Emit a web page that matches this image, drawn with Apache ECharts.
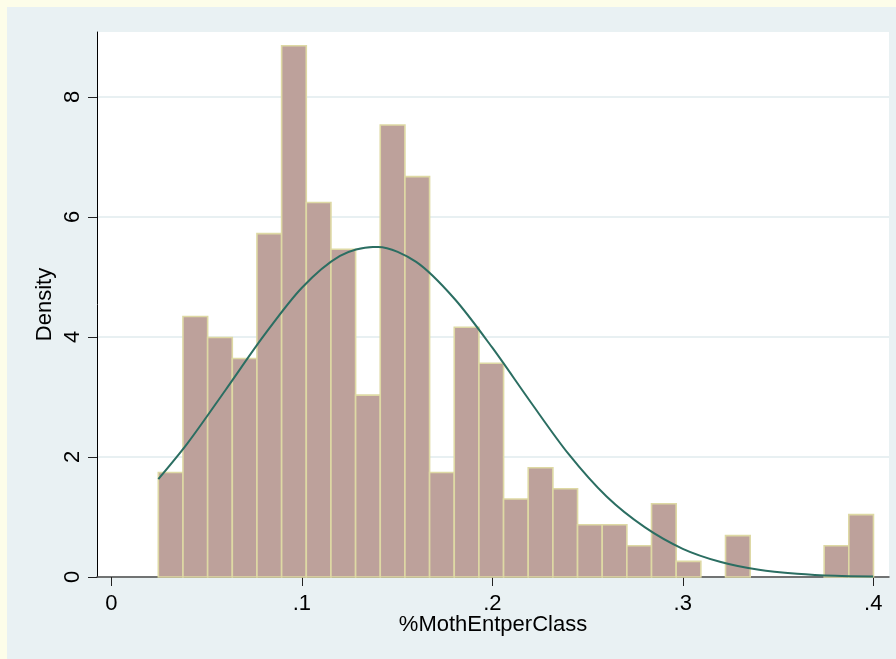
<!DOCTYPE html>
<html>
<head>
<meta charset="utf-8">
<script src="https://cdn.jsdelivr.net/npm/echarts@6/dist/echarts.min.js"></script>
<style>
  html, body { margin: 0; padding: 0; background: #fdfde9; }
  #chart { width: 896px; height: 659px; }
</style>
</head>
<body>
<div id="chart"></div>
<script>
// Histogram: 29 equal-width bins starting at the data minimum
const binStart = 0.0246;
const binWidth = 0.012950;
const binDensity = [
  1.74, 4.34, 3.99, 3.64, 5.72, 8.85, 6.24, 5.46, 3.03, 7.53,
  6.67, 1.74, 4.16, 3.56, 1.30, 1.82, 1.47, 0.87, 0.87, 0.52,
  1.22, 0.26, 0, 0.69, 0, 0, 0, 0.52, 1.04
];

// Normal density overlay
const curveX = [0.0246, 0.04, 0.06, 0.08, 0.10, 0.12, 0.1373, 0.14, 0.16, 0.18,
                0.20, 0.22, 0.24, 0.26, 0.28, 0.30, 0.32, 0.34, 0.36, 0.38, 0.40];
const curveY = [1.63, 2.23, 3.12, 4.02, 4.82, 5.35, 5.50, 5.50, 5.25, 4.64,
                3.82, 2.92, 2.05, 1.34, 0.83, 0.47, 0.25, 0.12, 0.055, 0.02, 0.008];

// Axis ticks
const xTicks = [0, 0.1, 0.2, 0.3, 0.4];
const xTickLabels = ['0', '.1', '.2', '.3', '.4'];
const yTicks = [0, 2, 4, 6, 8];
const yTickLabels = ['0', '2', '4', '6', '8'];
const xTitle = '%MothEntperClass';
const yTitle = 'Density';

const histData = binDensity.map((d, i) => [binStart + i * binWidth, binStart + (i + 1) * binWidth, d]);
const curveData = curveX.map((x, i) => [x, curveY[i]]);

const chart = echarts.init(document.getElementById('chart'));
const FONT = 'Liberation Sans, Arial, sans-serif';
const FS = 22;

chart.setOption({
  animation: false,
  backgroundColor: '#e9f1f3',
  graphic: [
    { type: 'rect', shape: { x: 0, y: 0, width: 896, height: 7 }, style: { fill: '#fdfde9' }, silent: true },
    { type: 'rect', shape: { x: 0, y: 0, width: 7, height: 659 }, style: { fill: '#fdfde9' }, silent: true }
  ],
  grid: {
    left: 97, right: 7, top: 32, bottom: 82,
    show: true, backgroundColor: '#ffffff', borderWidth: 0
  },
  xAxis: {
    type: 'value',
    min: -0.0076, max: 0.4083,
    name: xTitle,
    nameLocation: 'middle',
    nameGap: 37,
    nameMoveOverlap: false,
    nameTextStyle: { fontFamily: FONT, fontSize: FS, color: '#000' },
    axisLine: { show: true, onZero: false, lineStyle: { color: '#4a4a4a', width: 1.5 } },
    axisTick: { show: true, length: 9, lineStyle: { color: '#222', width: 1 }, customValues: xTicks },
    axisLabel: {
      customValues: xTicks,
      margin: 16,
      fontFamily: FONT, fontSize: FS, color: '#000',
      formatter: v => { const i = xTicks.findIndex(t => Math.abs(t - v) < 1e-9); return i >= 0 ? xTickLabels[i] : ''; }
    },
    splitLine: { show: false }
  },
  yAxis: {
    type: 'value',
    min: 0, max: 9.08,
    name: yTitle,
    nameLocation: 'middle',
    nameGap: 41,
    nameMoveOverlap: false,
    nameRotate: 90,
    nameTextStyle: { fontFamily: FONT, fontSize: FS, color: '#000' },
    axisLine: { show: true, onZero: false, lineStyle: { color: '#000', width: 1 } },
    axisTick: { show: true, length: 9, lineStyle: { color: '#222', width: 1 }, customValues: yTicks },
    axisLabel: {
      customValues: yTicks,
      rotate: 90,
      margin: 13,
      fontFamily: FONT, fontSize: FS, color: '#000',
      formatter: v => { const i = yTicks.findIndex(t => Math.abs(t - v) < 1e-9); return i >= 0 ? yTickLabels[i] : ''; }
    },
    splitLine: { show: true, lineStyle: { color: '#e8f0f2', width: 2 } }
  },
  series: [
    {
      type: 'custom',
      data: histData,
      encode: { x: [0, 1], y: 2 },
      renderItem: function (params, api) {
        const p0 = api.coord([api.value(0), 0]);
        const p1 = api.coord([api.value(1), api.value(2)]);
        if (api.value(2) <= 0) return null;
        return {
          type: 'rect',
          shape: { x: p0[0], y: p1[1], width: p1[0] - p0[0], height: p0[1] - p1[1] },
          style: { fill: '#bda19b', stroke: '#ded9a4', lineWidth: 1.6 }
        };
      },
      z: 2
    },
    {
      type: 'line',
      data: curveData,
      smooth: 0.3,
      showSymbol: false,
      lineStyle: { color: '#2b6e62', width: 2 },
      z: 3
    }
  ]
});
</script>
</body>
</html>
